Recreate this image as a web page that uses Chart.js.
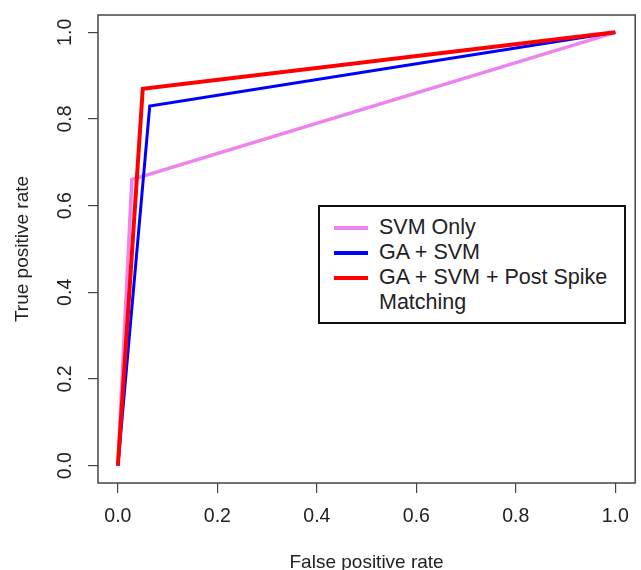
<!DOCTYPE html>
<html>
<head>
<meta charset="utf-8">
<script src="https://cdn.jsdelivr.net/npm/chart.js@4"></script>
<style>
html,body{margin:0;padding:0;background:#fff;}
#wrap{position:relative;width:641px;height:570px;}
#legend{position:absolute;left:318px;top:205px;width:308px;height:119px;border:2px solid #111;box-sizing:border-box;font-family:"Liberation Sans",Arial,sans-serif;font-size:21.5px;color:#222;background:#fff;}
.row{position:absolute;left:0;}
.sw{position:absolute;left:14px;width:34px;height:3.5px;}
.tx{position:absolute;left:59px;white-space:nowrap;line-height:25px;}
</style>
</head>
<body>
<div id="wrap">
<canvas id="c" width="641" height="570"></canvas>
<div id="legend"></div>
</div>
<script>
const seriesNames = ["SVM Only", "GA + SVM", "GA + SVM + Post Spike Matching"];
const svmOnlyFPR = [0, 0.028, 1];
const svmOnlyTPR = [0, 0.66, 1];
const gaSvmFPR = [0, 0.064, 1];
const gaSvmTPR = [0, 0.83, 1];
const gaSvmPsmFPR = [0, 0.05, 1];
const gaSvmPsmTPR = [0, 0.87, 1];
const tickValues = [0, 0.2, 0.4, 0.6, 0.8, 1.0];
const xTitle = "False positive rate";
const yTitle = "True positive rate";

const colors = ["#EE82EE", "#0000FF", "#FF0000"];
const widths = [3.5, 3, 4];
const FONT = '"Liberation Sans", Arial, sans-serif';

function pts(xs, ys){ return xs.map((x,i)=>({x:x,y:ys[i]})); }

const datasets = [
  {label: seriesNames[0], data: pts(svmOnlyFPR, svmOnlyTPR)},
  {label: seriesNames[1], data: pts(gaSvmFPR, gaSvmTPR)},
  {label: seriesNames[2], data: pts(gaSvmPsmFPR, gaSvmPsmTPR)}
].map((d,i)=>Object.assign(d,{
  borderColor: colors[i], backgroundColor: colors[i], borderWidth: widths[i],
  showLine: true, tension: 0, pointRadius: 0, fill: false, order: 2-i
}));

const setTicks = (scale)=>{ scale.ticks = tickValues.map(v=>({value:v})); };

const deco = {
  id: 'deco',
  afterDraw(chart){
    const ctx = chart.ctx, a = chart.chartArea;
    const ys = chart.scales.y;
    ctx.save();
    ctx.strokeStyle = '#444'; ctx.lineWidth = 1.5;
    ctx.strokeRect(a.left, a.top, a.right - a.left, a.bottom - a.top);
    ctx.fillStyle = '#222';
    ctx.font = '19.5px ' + FONT;
    ctx.textAlign = 'center'; ctx.textBaseline = 'middle';
    tickValues.forEach(v=>{
      const py = ys.getPixelForValue(v);
      ctx.save(); ctx.translate(66, py); ctx.rotate(-Math.PI/2);
      ctx.fillText(v.toFixed(1), 0, 0); ctx.restore();
    });
    ctx.font = '19px ' + FONT;
    ctx.textBaseline = 'alphabetic';
    ctx.fillText(xTitle, (a.left + a.right)/2, 568);
    ctx.textBaseline = 'middle';
    ctx.save(); ctx.translate(23, (a.top + a.bottom)/2); ctx.rotate(-Math.PI/2);
    ctx.fillText(yTitle, 0, 0); ctx.restore();
    ctx.restore();
  }
};

new Chart(document.getElementById('c'), {
  type: 'scatter',
  data: {datasets},
  options: {
    responsive: false, animation: false,
    layout: {padding: {left: 0, right: 4, top: 15, bottom: 0}},
    plugins: {legend: {display: false}, tooltip: {enabled: false}},
    scales: {
      x: {
        type: 'linear', min: -0.04, max: 1.04,
        afterBuildTicks: setTicks,
        afterFit: s => { s.height = 87; },
        border: {display: false},
        grid: {drawOnChartArea: false, drawTicks: true, tickLength: 10, color: '#444', lineWidth: 1.2},
        ticks: {padding: 12, color: '#222', font: {family: FONT, size: 19.5}, maxRotation: 0, autoSkip: false, callback: v => Number(v).toFixed(1)}
      },
      y: {
        type: 'linear', min: -0.04, max: 1.04,
        afterBuildTicks: setTicks,
        afterFit: s => { s.width = 98; },
        border: {display: false},
        grid: {drawOnChartArea: false, drawTicks: true, tickLength: 10, color: '#444', lineWidth: 1.2},
        ticks: {display: false}
      }
    }
  },
  plugins: [deco]
});

const leg = document.getElementById('legend');
seriesNames.forEach((n,i)=>{
  const row = document.createElement('div');
  row.className = 'row';
  row.style.top = (8 + i*25) + 'px';
  const sw = document.createElement('div');
  sw.className = 'sw'; sw.style.background = colors[i]; sw.style.top = '11px';
  const tx = document.createElement('div');
  tx.className = 'tx';
  tx.innerHTML = i === 2 ? 'GA + SVM + Post Spike<br>Matching' : n;
  row.appendChild(sw); row.appendChild(tx); leg.appendChild(row);
});
</script>
</body>
</html>
